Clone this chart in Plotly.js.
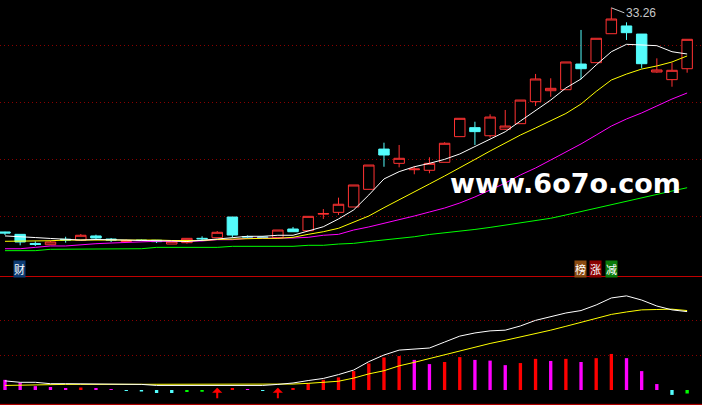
<!DOCTYPE html>
<html><head><meta charset="utf-8">
<script src="https://cdn.plot.ly/plotly-3.0.1.min.js"></script>
<style>html,body{margin:0;padding:0;background:#000;}#chart{width:702px;height:405px;}</style>
</head><body><div id="chart"></div>
<script>
// ---- price candles ----
const openP  = [13.60,13.39,12.59,12.48,12.96,12.87,13.25,12.98,12.76,12.89,12.87,12.54,12.66,13.04,13.10,14.91,13.20,13.16,13.10,13.86,13.71,15.16,15.32,15.79,17.34,20.87,19.62,19.06,19.01,19.71,21.96,22.75,22.04,22.61,23.10,25.03,25.99,26.08,28.33,28.45,30.99,31.67,30.96,27.63,26.96,27.92];
const highP  = [13.62,13.40,12.78,12.85,13.18,13.42,13.36,13.07,12.94,12.94,12.89,12.78,13.06,13.22,13.68,14.91,13.29,13.25,13.77,14.04,14.97,15.61,16.61,17.72,19.47,21.43,21.23,19.39,20.15,21.47,23.57,23.27,23.92,24.30,25.17,27.46,27.08,28.51,31.32,30.59,33.26,31.99,30.96,28.83,28.45,30.50];
const lowP   = [13.33,12.43,12.37,12.46,12.66,12.87,12.89,12.72,12.72,12.80,12.63,12.54,12.57,12.89,13.10,13.10,13.07,13.04,13.10,13.62,13.71,14.74,15.09,15.79,17.34,19.32,19.27,18.66,18.75,19.71,21.96,21.23,21.87,22.54,23.10,24.65,25.46,26.08,26.99,28.45,30.99,30.44,27.96,27.57,26.34,27.57];
const closeP = [13.51,12.72,12.50,12.72,12.89,13.31,13.07,12.89,12.85,12.85,12.75,12.78,13.04,13.00,13.57,13.33,13.16,13.12,13.77,13.62,14.97,15.22,16.03,17.72,19.47,20.35,20.06,19.12,19.62,21.38,23.57,22.40,23.68,22.89,25.17,27.02,26.20,28.51,27.92,30.59,32.28,31.08,28.36,27.81,27.78,30.50];
// ---- moving averages ----
const maWhite   = [13.25,13.20,13.11,13.03,12.94,12.89,12.94,12.94,12.89,12.85,12.85,12.81,12.76,12.85,12.98,13.10,13.22,13.22,13.31,13.31,13.69,14.06,14.74,15.53,16.84,18.25,18.89,19.32,19.62,19.97,20.44,21.08,21.75,22.39,23.33,24.25,25.17,26.23,27.02,28.25,29.41,30.06,30.00,29.94,29.41,29.21];
const maYellow  = [12.78,12.78,12.78,12.83,12.89,12.89,12.89,12.94,12.89,12.89,12.89,12.85,12.85,12.85,12.94,12.98,13.04,13.04,13.04,13.13,13.39,13.62,13.92,14.45,15.00,15.73,16.40,17.10,17.81,18.51,19.21,19.96,20.70,21.40,22.10,22.72,23.33,23.99,24.82,25.93,26.93,27.45,27.89,28.16,28.51,29.04];
const maMagenta = [12.13,12.13,12.25,12.37,12.37,12.48,12.57,12.63,12.69,12.69,12.78,12.78,12.78,12.81,12.92,12.92,13.04,13.04,13.04,13.07,13.13,13.31,13.39,13.77,14.04,14.34,14.65,15.00,15.35,15.70,16.14,16.67,17.28,17.89,18.60,19.21,19.91,20.61,21.32,22.10,22.89,23.51,24.04,24.65,25.26,25.79];
const maGreen   = [11.96,11.96,11.96,12.08,12.08,12.08,12.08,12.13,12.13,12.13,12.25,12.25,12.25,12.25,12.25,12.34,12.34,12.34,12.34,12.34,12.43,12.43,12.54,12.60,12.76,12.89,13.03,13.18,13.38,13.51,13.64,13.82,14.00,14.21,14.43,14.61,14.80,15.09,15.40,15.66,15.96,16.27,16.62,16.93,17.19,17.48];
// ---- lower indicator ----
const difLine = [0.26,0.22,0.22,0.18,0.18,0.18,0.18,0.18,0.18,0.16,0.13,0.13,0.13,0.13,0.14,0.15,0.13,0.13,0.16,0.20,0.27,0.33,0.44,0.57,0.81,1.00,1.14,1.16,1.20,1.37,1.54,1.63,1.69,1.71,1.83,1.99,2.09,2.20,2.27,2.43,2.63,2.69,2.57,2.40,2.29,2.24];
const deaLine = [0.13,0.14,0.16,0.16,0.16,0.16,0.16,0.16,0.16,0.16,0.16,0.16,0.16,0.16,0.16,0.16,0.16,0.16,0.16,0.17,0.19,0.22,0.25,0.34,0.46,0.55,0.69,0.79,0.90,1.01,1.13,1.23,1.33,1.42,1.51,1.61,1.71,1.82,1.93,2.04,2.16,2.23,2.29,2.30,2.31,2.27];
const histBars = [0.29,0.21,0.11,0.086,0.057,0.071,0.057,0.029,-0.029,-0.043,-0.086,-0.086,-0.057,-0.05,null,0.057,0.029,-0.029,null,0.057,0.19,0.29,0.36,0.54,0.76,0.93,0.97,0.86,0.74,0.80,0.94,0.86,0.84,0.71,0.77,0.89,0.83,0.89,0.80,0.91,1.03,0.91,0.54,0.17,-0.14,-0.10];
const buySignals = [14, 18];
const highLabel = '33.26';
const priceGrid = [15, 20, 25, 30];
const indGrid = [1, 2];

const idx = openP.map((_, i) => i);

// histogram colours by rule
const histColors = [];
let prev = Infinity;
histBars.forEach(v => {
  if (v === null) { histColors.push('#000'); return; }
  let c;
  if (v >= 0) c = (v > prev) ? '#ff0000' : '#ff00ff';
  else c = (v <= prev) ? '#54ffff' : '#00ff00';
  histColors.push(c);
  prev = v;
});

const traces = [
  {type:'scatter', mode:'lines', x:idx, y:maGreen, line:{color:'#00ff00', width:1}, hoverinfo:'skip'},
  {type:'scatter', mode:'lines', x:idx, y:maMagenta, line:{color:'#ff00ff', width:1}, hoverinfo:'skip'},
  {type:'scatter', mode:'lines', x:idx, y:maYellow, line:{color:'#ffff00', width:1}, hoverinfo:'skip'},
  {type:'scatter', mode:'lines', x:idx, y:maWhite, line:{color:'#ffffff', width:1}, hoverinfo:'skip'},
  {type:'candlestick', x:idx, open:openP, high:highP, low:lowP, close:closeP,
   increasing:{line:{color:'#ff3232', width:1}, fillcolor:'#000000'},
   decreasing:{line:{color:'#54fcfc', width:1}, fillcolor:'#54fcfc'},
   whiskerwidth:0, hoverinfo:'skip'},
  {type:'bar', x:idx, y:histBars, xaxis:'x2', yaxis:'y2', width:0.22,
   marker:{color:histColors, line:{width:0}}, hoverinfo:'skip'},
  {type:'scatter', mode:'lines', x:idx, y:deaLine, xaxis:'x2', yaxis:'y2', line:{color:'#ffff00', width:1}, hoverinfo:'skip'},
  {type:'scatter', mode:'lines', x:idx, y:difLine, xaxis:'x2', yaxis:'y2', line:{color:'#ffffff', width:1}, hoverinfo:'skip'}
];

const xr = [-0.33, 45.98];
const badge = (txt, px, bg) => ({
  xref:'paper', yref:'paper', x:px/702, y:1-268.5/405, xanchor:'center', yanchor:'middle',
  text:txt, showarrow:false, bgcolor:bg, borderpad:0,
  font:{family:'Noto Sans CJK SC', size:11, color:'#ffffff'}
});

const annotations = [
  {xref:'paper', yref:'paper', x:565/702, y:1-183/405, xanchor:'center', yanchor:'middle',
   text:'<b>www.6o7o.com</b>', showarrow:false,
   font:{family:'DejaVu Sans', size:27, color:'#ffffff'}},
  badge('财', 19, '#0d3b72'),
  badge('榜', 580.5, '#8a4a10'),
  badge('涨', 595.5, '#8b0000'),
  badge('减', 611.5, '#0a7a0a'),
  {x:40, y:highP[40], xref:'x', yref:'y', text:highLabel, showarrow:true, arrowhead:0,
   arrowcolor:'#c8c8c8', arrowwidth:1, ax:13, ay:5, xanchor:'left', yanchor:'middle',
   font:{family:'Liberation Sans', size:12, color:'#c8c8c8'}}
];
buySignals.forEach(i => {
  annotations.push({x:i, y:0.066, xref:'x2', yref:'y2', text:'', showarrow:true,
    arrowhead:1, arrowsize:0.85, arrowwidth:2, arrowcolor:'#ff0000', ax:0, ay:12});
});

const gridAxis = (dom, rng, vals) => ({
  domain:dom, range:rng, tickvals:vals, showticklabels:false, ticks:'',
  showgrid:true, gridcolor:'#8a0000', gridwidth:1, griddash:'1px,3px',
  zeroline:false, showline:false, fixedrange:true
});

const layout = {
  width:702, height:405, margin:{l:0, r:0, t:0, b:0},
  paper_bgcolor:'#000000', plot_bgcolor:'#000000', showlegend:false,
  boxgap:0.31, boxgroupgap:0,
  xaxis:{domain:[0,1], range:xr, anchor:'y', visible:false, rangeslider:{visible:false}, fixedrange:true},
  yaxis:gridAxis([0.31852, 1], [9.737, 33.947], priceGrid),
  xaxis2:{domain:[0,1], range:xr, anchor:'y2', visible:false, fixedrange:true},
  yaxis2:gridAxis([0.00247, 0.31605], [-0.4, 3.229], indGrid),
  shapes:[
    {type:'line', xref:'paper', yref:'paper', x0:0, x1:1, y0:1-276.5/405, y1:1-276.5/405, line:{color:'#c00000', width:1}},
    {type:'line', xref:'paper', yref:'paper', x0:0, x1:1, y0:0.6/405, y1:0.6/405, line:{color:'#c00000', width:1}}
  ],
  annotations:annotations
};

Plotly.newPlot('chart', traces, layout, {displayModeBar:false, staticPlot:true});
</script>
</body></html>
